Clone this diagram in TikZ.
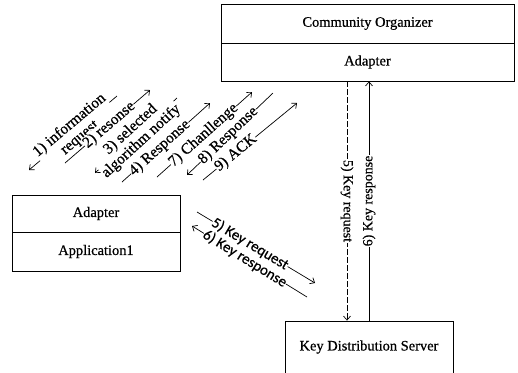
\documentclass[tikz,border=0pt]{standalone}
\usepackage{fontspec}
\setmainfont{Liberation Serif}[FakeBold=0.6]
\newfontfamily\calib{Carlito}[FakeBold=0.6]
\usetikzlibrary{arrows.meta}
\begin{document}
\begin{tikzpicture}[x=1bp,y=-1bp,
  boxn/.style={draw,line width=0.8bp,inner sep=0pt,font=\fontsize{14.5}{17}\selectfont},
  lbl/.style={fill=white,inner sep=0.3bp,font=\fontsize{15.5}{16}\selectfont,align=center},
  vlbl/.style={fill=white,inner sep=0.5bp,font=\fontsize{14}{16}\selectfont},
  lblk/.style={fill=white,inner sep=0.3bp,font=\calib\fontsize{15}{16}\selectfont},
  tip/.style={-{Straight Barb[length=4bp,width=7bp]}},
  arr/.style={line width=0.7bp,tip},
  dashln/.style={line width=0.7bp,dash pattern=on 6bp off 2bp,tip},
]
\useasboundingbox (0,0) rectangle (518,372);
% boxes
\node[boxn,minimum width=293bp,minimum height=39bp] (co) at (367.5,23.5) {Community Organizer};
\node[boxn,minimum width=293bp,minimum height=38bp] (coad) at (367.5,62) {Adapter};
\node[boxn,minimum width=168bp,minimum height=37bp] (ad) at (96,213.5) {Adapter};
\node[boxn,minimum width=168bp,minimum height=39bp] (app) at (96,251.5) {Application1};
\node[boxn,minimum width=168bp,minimum height=52bp] (kds) at (369,347) {Key Distribution Server};
% vertical key exchange
\path ([xshift=-22bp]kds.north) coordinate (kq);
\draw[dashln] (kq |- coad.south) -- node[vlbl,rotate=-90]{5) Key request} (kq);
\draw[arr] (kds.north) -- node[vlbl,rotate=90]{6) Key response} (kds.north |- coad.south);
% diagonal messages
\coordinate (a1s) at (117,96);  \coordinate (a1e) at (29,170);
\coordinate (a2s) at (65,163);  \coordinate (a2e) at (150,90);
\coordinate (a3s) at (177,98);  \coordinate (a3e) at (95,173);
\coordinate (a4s) at (122,182); \coordinate (a4e) at (210,103);
\coordinate (a7s) at (157,177); \coordinate (a7e) at (252,92);
\coordinate (a8s) at (273,93);  \coordinate (a8e) at (187,175);
\coordinate (a9s) at (203,180); \coordinate (a9e) at (297,103);
\coordinate (b5s) at (197,212); \coordinate (b5e) at (315,283);
\coordinate (b6s) at (307,297); \coordinate (b6e) at (192,226);
\draw[arr] (a1s) -- node[lbl,sloped,pos=0.48]{1) information\\request} (a1e);
\draw[arr] (a2s) -- node[lbl,sloped,pos=0.52]{2) resonse} (a2e);
\draw[arr] (a3s) -- node[lbl,sloped,pos=0.5]{3) selected\\algorithm notify} (a3e);
\draw[arr] (a4s) -- node[lbl,sloped,pos=0.43]{4) Response} (a4e);
\draw[arr] (a7s) -- node[lbl,sloped,pos=0.49]{7) Chanllenge} (a7e);
\draw[arr] (a8s) -- node[lbl,sloped,pos=0.52]{8) Response} (a8e);
\draw[arr] (a9s) -- node[lbl,sloped,pos=0.35]{9) ACK} (a9e);
\draw[arr] (b5s) -- node[lblk,sloped,pos=0.45]{5) Key request} (b5e);
\draw[arr] (b6s) -- node[lblk,sloped,pos=0.54]{6) Key response} (b6e);
\end{tikzpicture}
\end{document}
